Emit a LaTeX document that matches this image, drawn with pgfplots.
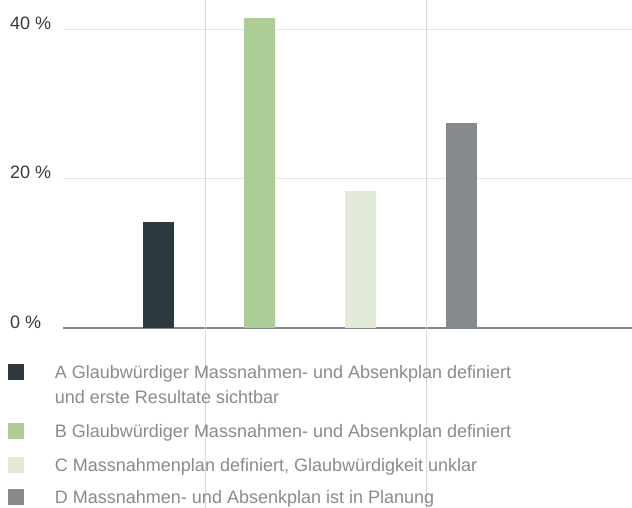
\documentclass[border=0pt]{standalone}
\usepackage{fontspec}
\setmainfont{Liberation Sans}
\usepackage{pgfplots}
\pgfplotsset{compat=1.18}
\definecolor{cA}{HTML}{2C3A3E}
\definecolor{cB}{HTML}{ADCD96}
\definecolor{cC}{HTML}{E2EAD8}
\definecolor{cD}{HTML}{878A8C}
\definecolor{gridc}{HTML}{E6E6E6}
\definecolor{vlinec}{HTML}{DADADA}
\definecolor{basec}{HTML}{82878B}
\definecolor{legtext}{HTML}{8A8A8A}
\definecolor{ticktext}{HTML}{3A3A3A}
\newcommand{\sA}{\rule[-8pt]{0pt}{25pt}}
\newcommand{\sB}{\rule[-16.5pt]{0pt}{33.5pt}}
\newcommand{\sC}{\rule[-17.5pt]{0pt}{34.5pt}}
\newcommand{\sD}{\rule[-14.5pt]{0pt}{31.5pt}}
\begin{document}
\begin{tikzpicture}
\begin{axis}[
  scale only axis, width=569pt, height=328pt,
  xmin=-0.9455, xmax=4.688, ymin=0, ymax=43.95,
  ybar, bar width=31pt, bar shift=0pt,
  axis line style={draw=none},
  xtick=\empty,
  ytick={20,40}, yticklabels={20 \%, 40 \%},
  extra y ticks={0}, extra y tick labels={0 \%},
  extra y tick style={grid=major, grid style={draw=basec, line width=1.5pt}},
  major tick length=0pt,
  ymajorgrids, grid style={draw=gridc, line width=1pt},
  yticklabel style={anchor=base west, inner sep=0pt, xshift=-53pt, font=\fontsize{18}{22}\selectfont, text=ticktext},
  clip=false,
  legend style={at={(axis description cs:-0.0967,-0.1021)}, anchor=north west, draw=none, fill=none, inner sep=0pt, outer sep=0pt, row sep=0pt, column sep=30.5pt, cells={anchor=base west}, nodes={inner sep=0pt, outer sep=0pt, text depth=, text height=, text=legtext, font=\fontsize{18}{25}\selectfont}},
  legend image code/.code={\fill[#1, draw=none] (0pt,-1.5pt) rectangle (16.5pt,14.5pt);},
]
\addplot[fill=cA, draw=none] coordinates {(0,14.2)};
\addlegendentry{\sA A Glaubwürdiger Massnahmen- und Absenkplan definiert}
\addlegendimage{empty legend}
\addlegendentry{\sB und erste Resultate sichtbar}
\addplot[fill=cB, draw=none] coordinates {(1,41.5)};
\addlegendentry{\sC B Glaubwürdiger Massnahmen- und Absenkplan definiert}
\addplot[fill=cC, draw=none] coordinates {(2,18.4)};
\addlegendentry{\sD C Massnahmenplan definiert, Glaubwürdigkeit unklar}
\addplot[fill=cD, draw=none] coordinates {(3,27.5)};
\addlegendentry{\sD D Massnahmen- und Absenkplan ist in Planung}
\draw[vlinec, line width=1pt] (axis cs:0.4703,43.95) -- (axis cs:0.4703,-25);
\draw[vlinec, line width=1pt] (axis cs:2.6485,43.95) -- (axis cs:2.6485,-25);
\coordinate (bbSW) at (axis description cs:-0.1107,-0.5457);
\coordinate (bbNE) at (axis description cs:1,1);
\end{axis}
\pgfresetboundingbox
\path[use as bounding box] (bbSW) rectangle (bbNE);
\end{tikzpicture}
\end{document}
